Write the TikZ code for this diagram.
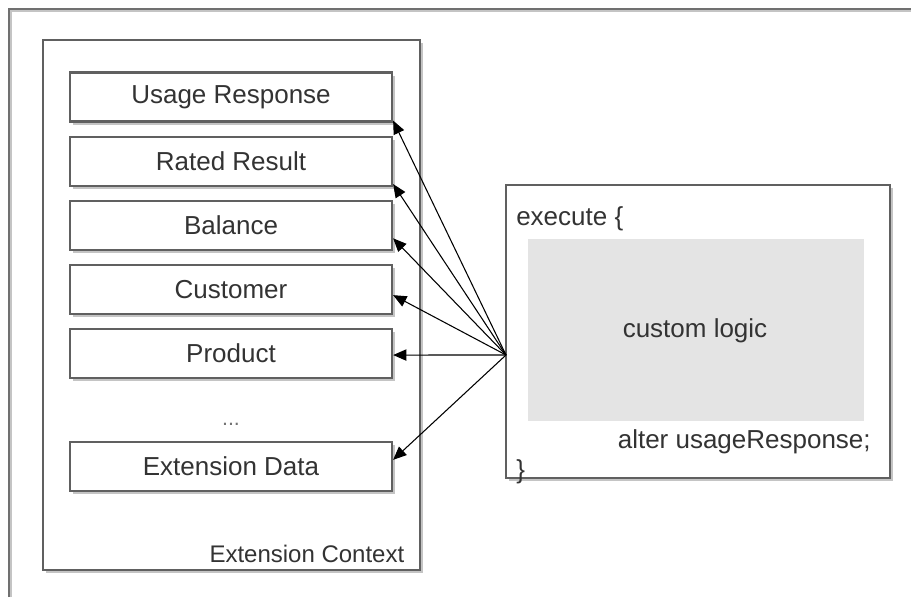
\documentclass[tikz,border=0pt]{standalone}
\usepackage{fontspec}
\setmainfont{Liberation Sans}
\usetikzlibrary{arrows.meta,shadows,calc}
\definecolor{frameg}{HTML}{606060}
\definecolor{textg}{HTML}{333333}
\definecolor{logicg}{HTML}{E4E4E4}
\definecolor{shadowg}{HTML}{C4C4C4}
\tikzset{
  base/.style={font=\fontsize{19.5}{23}\selectfont, text=textg},
  panel/.style={draw=frameg, line width=1.7pt, fill=white,
    drop shadow={shadow xshift=2.6pt, shadow yshift=-2.6pt, fill=shadowg, opacity=1},
    inner sep=0pt},
  item/.style={panel, base, minimum width=241.5pt, minimum height=36.75pt},
  link/.style={draw=black, line width=0.8pt, -{Triangle[length=10pt,width=8.5pt]}},
}
\begin{document}
\begin{tikzpicture}[x=0.75pt, y=-0.75pt]
  \useasboundingbox (0,0) rectangle (911,597);
  % outer frame (only top and left edges are visible)
  \draw[shadowg, line width=1.5pt] (11,597) -- (11,11) -- (911,11);
  \draw[frameg!90, line width=1.7pt] (9,597) -- (9,9) -- (911,9);

  % extension context container
  \node[panel, minimum width=282.75pt, minimum height=397.5pt] (ctx) at (231.5,305) {};
  \node[base, font=\fontsize{18}{22}\selectfont, anchor=base east] (ctxlabel) at (409,562) {Extension Context};

  % context entries
  \node[item] (usage)    at (231,97)    {Usage Response};
  \node[item] (rated)    at (231,161.5) {Rated Result};
  \node[item] (balance)  at (231,225.5) {Balance};
  \node[item] (customer) at (231,289.5) {Customer};
  \node[item] (product)  at (231,353.5) {Product};
  \node[base, font=\fontsize{16}{18}\selectfont, anchor=base, text=black!55] (dots) at (231,425) {...};
  \node[item] (extdata)  at (231,466.5) {Extension Data};

  % execute block
  \node[panel, minimum width=288pt, minimum height=219.75pt] (exec) at (698,331.5) {};
  \node[fill=logicg, minimum width=252pt, minimum height=136.5pt, inner sep=0pt] (logic) at (696,330) {};
  \node[base, anchor=base] (logiclabel) at (695,337) {custom logic};
  \node[base, anchor=base west, inner sep=0pt] (execopen) at (516,225) {execute \{};
  \node[base, anchor=base east, inner sep=0pt] (alter) at (871,448) {alter usageResponse;};
  \node[base, anchor=base west, inner sep=0pt] (execclose) at (516,478) {\}};

  % connectors from the execute block to the context entries
  \coordinate (src) at (506,355);
  \draw[link] (src) -- ($(usage.south east)!0.04!(usage.north east)$);
  \draw[link] (src) -- ($(rated.south east)!0.06!(rated.north east)$);
  \draw[link] (src) -- ($(balance.south east)!0.25!(balance.north east)$);
  \draw[link] (src) -- ($(customer.south east)!0.39!(customer.north east)$);
  \draw[link] (src) -- ($(product.south east)!0.47!(product.north east)$);
  \draw[link] (src) -- ($(extdata.south east)!0.63!(extdata.north east)$);
\end{tikzpicture}
\end{document}
